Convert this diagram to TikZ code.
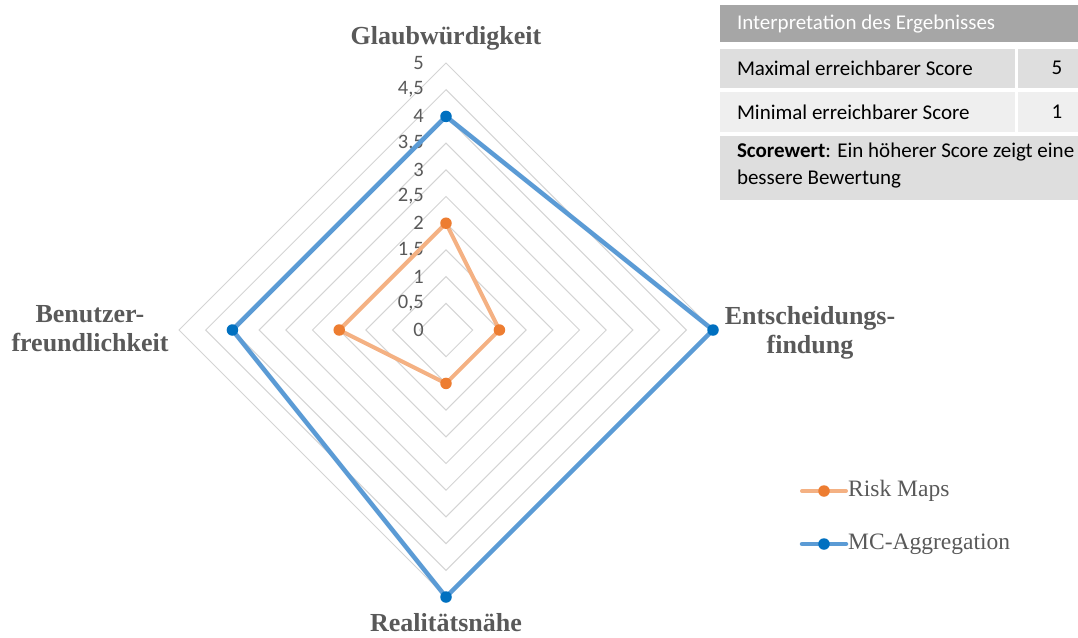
\documentclass[tikz,border=0pt]{standalone}
\usepackage{fontspec}
\setmainfont{Liberation Serif}
\newfontfamily\carlito{Carlito}
\usetikzlibrary{positioning}
\definecolor{AxisGray}{RGB}{89,89,89}
\definecolor{GridGray}{RGB}{212,212,212}
\definecolor{RmLine}{RGB}{244,177,131}
\definecolor{RmDot}{RGB}{237,125,49}
\definecolor{McLine}{RGB}{91,155,213}
\definecolor{McDot}{RGB}{0,112,192}
\definecolor{HdrGray}{RGB}{166,166,166}
\definecolor{RowDark}{RGB}{222,222,222}
\definecolor{RowLight}{RGB}{239,239,239}

\begin{document}
\begin{tikzpicture}[x=1pt, y=-1pt]
      \tikzset{ grid/.style   ={draw=GridGray, line width=1pt, line join=miter} }
      \tikzset{ tick/.style   ={anchor=east, text=AxisGray, font=\carlito\fontsize{20.5}{20.5}\selectfont, inner sep=0pt} }
      \tikzset{ axlbl/.style  ={align=center, text=AxisGray, font=\bfseries\fontsize{26}{29}\selectfont, inner sep=0pt} }
      \tikzset{ rmline/.style ={draw=RmLine, line width=4pt, line join=round, line cap=round} }
      \tikzset{ mcline/.style ={draw=McLine, line width=4.5pt, line join=round, line cap=round} }
      \tikzset{ rmdot/.style  ={circle, fill=RmDot, minimum size=11.5pt, inner sep=0pt} }
      \tikzset{ mcdot/.style  ={circle, fill=McDot, minimum size=11.5pt, inner sep=0pt} }
      \tikzset{ lgd/.style    ={anchor=west, text=AxisGray, font=\fontsize{23.5}{23.5}\selectfont, inner sep=0pt} }
      \tikzset{ cell/.style   ={inner sep=0pt, outer sep=0pt, text=black, font=\carlito\fontsize{21}{27}\selectfont} }

      \path[use as bounding box] (0,0) rectangle (1078,637);

      \def\u{53.4}
      % grid diamonds
      \foreach \r in {0.5,1,...,5}
        \draw[grid] (446,330-\u*\r) -- (446+\u*\r,330) -- (446,330+\u*\r) -- (446-\u*\r,330) -- cycle;

      % scale
      \foreach \v/\t in {0/0, 0.5/{0,5}, 1/1, 1.5/{1,5}, 2/2, 2.5/{2,5}, 3/3, 3.5/{3,5}, 4/4, 4.5/{4,5}, 5/5}
        \node[tick] at (424,330-\u*\v) {\t};

      \node[axlbl] (glaub) at (446,38)  {Glaubwürdigkeit};
      \node[axlbl] (entsch) at (810,333) {Entscheidungs-\\findung};
      \node[axlbl] (real)  at (446,623) {Realitätsnähe};
      \node[axlbl] (benutz) at (90,329) {Benutzer-\\freundlichkeit};

      % data
      \coordinate (rmG) at (446,330-2*\u);
      \coordinate (rmE) at (446+1*\u,330);
      \coordinate (rmR) at (446,330+1*\u);
      \coordinate (rmB) at (446-2*\u,330);
      \coordinate (mcG) at (446,330-4*\u);
      \coordinate (mcE) at (446+5*\u,330);
      \coordinate (mcR) at (446,330+5*\u);
      \coordinate (mcB) at (446-4*\u,330);

      \draw[rmline] (rmG) -- (rmE) -- (rmR) -- (rmB) -- cycle;
      \foreach \p in {rmG,rmE,rmR,rmB} \node[rmdot] at (\p) {};
      \draw[mcline] (mcG) -- (mcE) -- (mcR) -- (mcB) -- cycle;
      \foreach \p in {mcG,mcE,mcR,mcB} \node[mcdot] at (\p) {};

      % legend
      \coordinate (rmA) at (802,491);
      \coordinate (rmZ) at (846,491);
      \draw[rmline] (rmA) -- (rmZ);
      \node[rmdot] (rmkey) at (824,491) {};
      \node[lgd, right=2pt of rmZ] (rmtxt) {Risk Maps};
      \coordinate (mcA) at (802,544);
      \coordinate (mcZ) at (846,544);
      \draw[mcline] (mcA) -- (mcZ);
      \node[mcdot] (mckey) at (824,544) {};
      \node[lgd, right=2pt of mcZ] (mctxt) {MC-Aggregation};

      % interpretation table
      \fill[HdrGray] (720,5) rectangle (1078,42);
      \fill[RowDark] (720,49) rectangle (1015,88);
      \fill[RowDark] (1018,49) rectangle (1078,88);
      \fill[RowLight] (720,92) rectangle (1015,132);
      \fill[RowLight] (1018,92) rectangle (1078,132);
      \fill[RowDark] (720,136) rectangle (1078,200);
      \node[cell, anchor=west, text=white] (hdr) at (737,24) {Interpretation des Ergebnisses};
      \node[cell, anchor=west] (maxl) at (737,68) {Maximal erreichbarer Score};
      \node[cell] (maxv) at (1057,68) {5};
      \node[cell, anchor=west] (minl) at (737,112) {Minimal erreichbarer Score};
      \node[cell] (minv) at (1057,112) {1};
      \node[cell, anchor=north west, align=left] (note) at (737,143) {\textbf{Scorewert}: Ein höherer Score zeigt eine\\bessere Bewertung};
    \end{tikzpicture}
\end{document}
